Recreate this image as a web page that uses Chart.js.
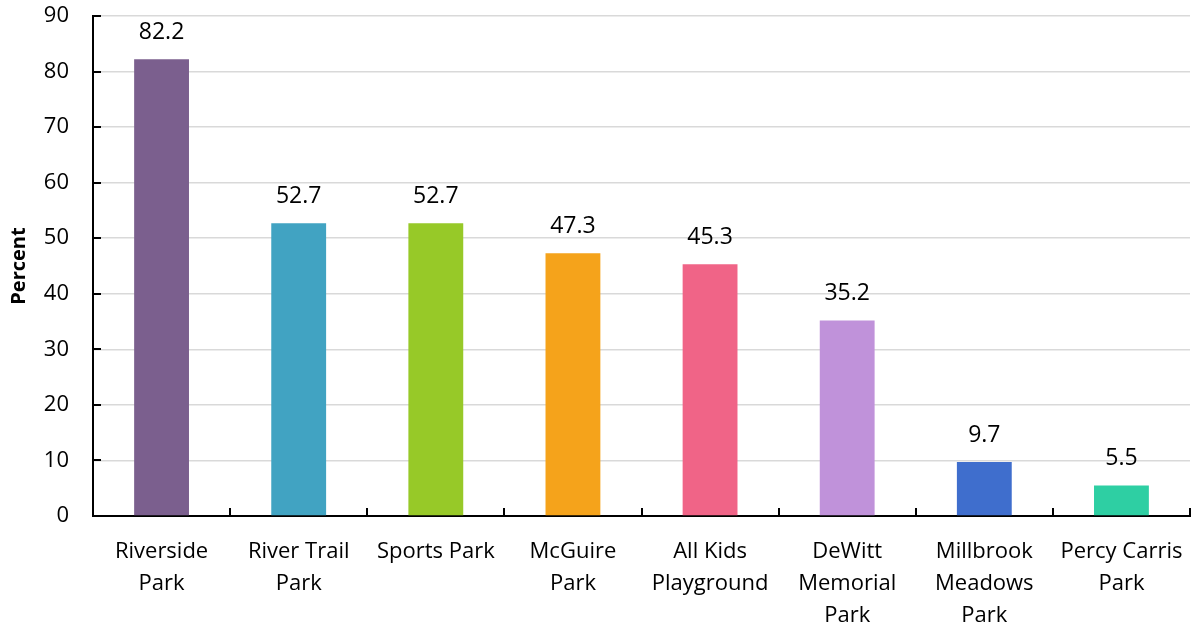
<!DOCTYPE html>
<html>
<head>
    <meta charset="UTF-8">
    <title>Park use</title>
    <script src="https://cdn.jsdelivr.net/npm/chart.js@4/dist/chart.umd.min.js"></script>
    <style>
        html, body { margin: 0; padding: 0; background: #fff; }
        #wrap { width: 1191px; height: 631px; }
    </style>
</head>
<body>

<div id="wrap">
    <canvas id="parkChart"></canvas>
</div>

<script>
    // data
    var parks = [
        ['Riverside', 'Park'],
        ['River Trail', 'Park'],
        ['Sports Park'],
        ['McGuire', 'Park'],
        ['All Kids', 'Playground'],
        ['DeWitt', 'Memorial', 'Park'],
        ['Millbrook', 'Meadows', 'Park'],
        ['Percy Carris', 'Park']
    ];
    var percents = [82.2, 52.7, 52.7, 47.3, 45.3, 35.2, 9.7, 5.5];
    var barColors = ['#7b5f8e', '#41a3c2', '#97c928', '#f5a31b', '#f06487', '#c092da', '#3f6ecd', '#2ecfa3'];
    var yTicks = [0, 10, 20, 30, 40, 50, 60, 70, 80, 90];

    var fontFamily = "'Open Sans', sans-serif";

    // value above each bar
    var valueLabels = {
        id: 'valueLabels',
        afterDatasetsDraw: function (chart) {
            var ctx = chart.ctx;
            var meta = chart.getDatasetMeta(0);
            ctx.save();
            ctx.fillStyle = '#000';
            ctx.font = '23px ' + fontFamily;
            ctx.textAlign = 'center';
            ctx.textBaseline = 'middle';
            meta.data.forEach(function (bar, i) {
                ctx.fillText(percents[i].toFixed(1), bar.x, bar.y - 27);
            });
            ctx.restore();
        }
    };

    // small tick marks pointing into the plot
    var insideTicks = {
        id: 'insideTicks',
        afterDraw: function (chart) {
            var ctx = chart.ctx;
            var x = chart.scales.x, y = chart.scales.y;
            var area = chart.chartArea;
            var step = x.getPixelForValue(1) - x.getPixelForValue(0);
            ctx.save();
            ctx.strokeStyle = '#000';
            ctx.lineWidth = 2;
            ctx.beginPath();
            yTicks.forEach(function (v) {
                var py = Math.round(y.getPixelForValue(v));
                ctx.moveTo(area.left, py);
                ctx.lineTo(area.left + 8, py);
            });
            for (var i = 0; i <= parks.length; i++) {
                var px = Math.round(x.getPixelForValue(i) - step / 2);
                ctx.moveTo(px, area.bottom);
                ctx.lineTo(px, area.bottom - 8);
            }
            ctx.stroke();
            ctx.restore();
        }
    };

    var ctx = document.getElementById('parkChart').getContext('2d');
    var parkChart = new Chart(ctx, {
        type: 'bar',
        data: {
            labels: parks,
            datasets: [{
                data: percents,
                backgroundColor: barColors,
                barPercentage: 0.8,
                categoryPercentage: 0.5
            }]
        },
        options: {
            responsive: true,
            maintainAspectRatio: false,
            animation: false,
            layout: { padding: { top: 16, right: 1, left: 0, bottom: 0 } },
            plugins: {
                legend: { display: false },
                tooltip: { enabled: false }
            },
            scales: {
                x: {
                    grid: { drawOnChartArea: false, drawTicks: false },
                    border: { color: '#000', width: 2 },
                    ticks: {
                        color: '#000',
                        font: { family: fontFamily, size: 22, lineHeight: 1.45 },
                        padding: 20,
                        maxRotation: 0,
                        autoSkip: false
                    },
                    afterFit: function (scale) {
                        scale.height = 115;
                        scale.paddingLeft = 0;
                        scale.paddingRight = 0;
                    }
                },
                y: {
                    min: 0,
                    max: 90,
                    ticks: {
                        stepSize: 10,
                        color: '#000',
                        font: { family: fontFamily, size: 22 },
                        padding: 24
                    },
                    grid: { color: '#d9d9d9', lineWidth: 1.5, drawTicks: false },
                    border: { color: '#000', width: 2 },
                    title: {
                        display: true,
                        text: 'Percent',
                        color: '#000',
                        font: { family: fontFamily, size: 20, weight: 'bold' },
                        padding: { top: 7, bottom: 0 }
                    },
                    afterFit: function (scale) {
                        scale.width = 93;
                        scale.paddingTop = 0;
                        scale.paddingBottom = 0;
                    }
                }
            }
        },
        plugins: [valueLabels, insideTicks]
    });
</script>

</body>
</html>
